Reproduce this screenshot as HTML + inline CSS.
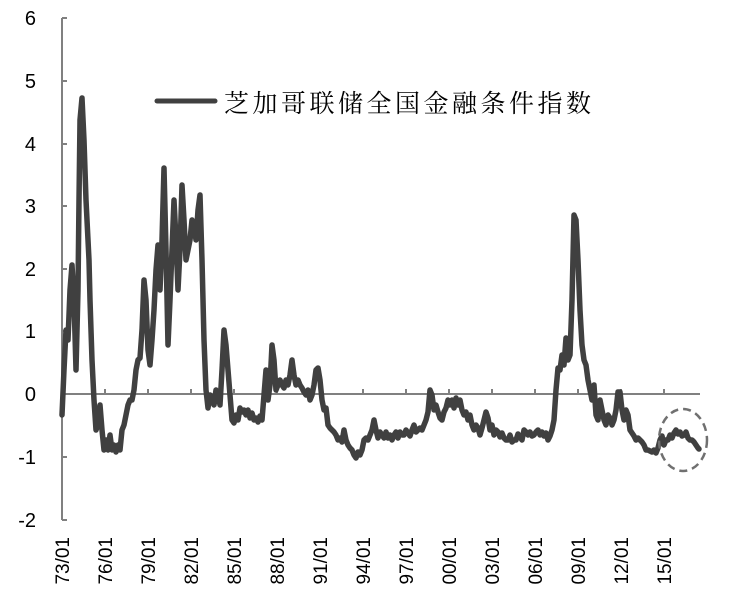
<!DOCTYPE html>
<html><head><meta charset="utf-8"><style>
body{margin:0;background:#fff;}
svg{display:block;font-family:"Liberation Sans","Noto Sans CJK SC",sans-serif;}
</style></head><body>
<svg width="732" height="607" viewBox="0 0 732 607">
<g stroke="#808080" stroke-width="2" fill="none">
<line x1="62" y1="18" x2="62" y2="520"/>
<line x1="62" y1="394" x2="700" y2="394"/>
<line x1="62" y1="18" x2="67" y2="18"/><line x1="62" y1="81" x2="67" y2="81"/><line x1="62" y1="144" x2="67" y2="144"/><line x1="62" y1="206" x2="67" y2="206"/><line x1="62" y1="269" x2="67" y2="269"/><line x1="62" y1="331" x2="67" y2="331"/><line x1="62" y1="457" x2="67" y2="457"/><line x1="62" y1="520" x2="67" y2="520"/>
<line x1="105" y1="389" x2="105" y2="394"/><line x1="148" y1="389" x2="148" y2="394"/><line x1="191" y1="389" x2="191" y2="394"/><line x1="234" y1="389" x2="234" y2="394"/><line x1="277" y1="389" x2="277" y2="394"/><line x1="320" y1="389" x2="320" y2="394"/><line x1="363" y1="389" x2="363" y2="394"/><line x1="406" y1="389" x2="406" y2="394"/><line x1="449" y1="389" x2="449" y2="394"/><line x1="492" y1="389" x2="492" y2="394"/><line x1="535" y1="389" x2="535" y2="394"/><line x1="578" y1="389" x2="578" y2="394"/><line x1="621" y1="389" x2="621" y2="394"/><line x1="664" y1="389" x2="664" y2="394"/>
</g>
<g font-size="20" fill="#000" text-anchor="end">
<text x="36" y="25">6</text><text x="36" y="88">5</text><text x="36" y="151">4</text><text x="36" y="213">3</text><text x="36" y="276">2</text><text x="36" y="338">1</text><text x="36" y="401">0</text><text x="36" y="464">-1</text><text x="36" y="527">-2</text>
</g>
<g font-size="19" fill="#000" text-anchor="end">
<text transform="translate(69,537) rotate(-90)">73/01</text>
<text transform="translate(112,537) rotate(-90)">76/01</text>
<text transform="translate(155,537) rotate(-90)">79/01</text>
<text transform="translate(198,537) rotate(-90)">82/01</text>
<text transform="translate(241,537) rotate(-90)">85/01</text>
<text transform="translate(284,537) rotate(-90)">88/01</text>
<text transform="translate(327,537) rotate(-90)">91/01</text>
<text transform="translate(370,537) rotate(-90)">94/01</text>
<text transform="translate(413,537) rotate(-90)">97/01</text>
<text transform="translate(456,537) rotate(-90)">00/01</text>
<text transform="translate(499,537) rotate(-90)">03/01</text>
<text transform="translate(542,537) rotate(-90)">06/01</text>
<text transform="translate(585,537) rotate(-90)">09/01</text>
<text transform="translate(628,537) rotate(-90)">12/01</text>
<text transform="translate(671,537) rotate(-90)">15/01</text>
</g>
<polyline fill="none" stroke="#404040" stroke-width="5.5" stroke-linejoin="round" stroke-linecap="round" points="62,415 64,370 66,330 68,340 70,290 72,265 74,300 76,370 77,330 78,290 79,200 80,120 82,98 84,140 86,200 88,240 89,260 90,300 92,360 94,400 96,430 98,425 100,405 102,430 104,450 106,440 108,450 110,435 112,450 114,445 116,452 118,445 120,450 122,430 124,425 126,415 128,405 130,400 132,400 134,390 136,370 138,360 140,358 142,330 144,280 146,300 148,350 150,365 152,340 154,310 156,270 158,245 160,290 162,240 164,168 166,250 168,345 170,300 172,250 174,200 176,240 178,290 180,250 182,185 184,220 186,260 188,250 190,240 192,220 194,225 196,240 198,210 200,195 202,260 204,340 206,390 208,408 210,395 212,400 214,405 216,390 218,395 220,405 222,370 224,330 226,345 228,370 230,395 232,420 234,423 236,415 238,420 240,408 242,412 244,410 246,415 248,410 250,418 252,413 254,420 256,418 258,422 260,416 262,420 264,395 266,370 268,400 270,385 272,345 274,360 276,390 278,385 280,380 282,385 284,388 286,380 288,385 290,375 292,360 294,375 296,385 298,380 300,385 302,388 304,392 306,395 308,390 310,400 312,395 314,385 316,370 318,368 320,380 322,400 324,410 326,408 328,425 330,428 332,430 334,432 336,435 338,440 340,438 342,442 344,430 346,440 348,445 350,448 352,450 354,455 356,458 358,452 360,455 362,450 364,440 366,438 368,440 370,435 372,430 374,420 376,430 378,438 380,432 382,435 384,438 386,432 388,438 390,435 392,440 394,435 396,432 398,438 400,432 402,435 404,435 406,430 408,433 410,436 412,430 414,425 416,432 418,430 420,428 422,430 424,425 426,420 428,412 430,390 432,395 434,410 436,405 438,412 440,418 442,420 444,412 446,408 448,400 450,405 452,400 454,408 456,398 458,405 460,400 462,410 464,415 466,412 468,420 470,415 472,425 474,430 476,425 478,428 480,435 482,428 484,420 486,412 488,418 490,430 492,425 494,435 496,430 498,432 500,437 502,433 504,438 506,440 508,440 510,435 512,442 514,440 516,440 518,434 520,437 522,440 524,430 526,432 528,435 530,432 532,436 534,435 536,432 538,430 540,435 542,432 544,436 546,433 548,440 550,436 552,430 554,420 556,390 558,368 560,370 562,355 564,365 566,338 568,360 570,355 572,300 574,215 576,220 578,260 580,310 582,345 584,360 586,365 588,380 590,390 592,400 594,385 596,415 598,420 600,400 602,410 604,420 606,425 608,415 610,418 612,425 614,420 616,410 618,392 620,392 622,410 624,420 626,410 628,415 630,430 632,433 634,436 636,440 638,438 640,440 642,442 644,445 646,450 648,450 650,451 652,452 654,450 656,453 658,448 660,440 662,436 664,445 666,440 668,440 670,435 672,438 674,433 676,430 678,434 680,432 682,436 684,435 686,432 688,438 690,440 692,440 694,442 696,445 698,448 699,449"/>
<ellipse cx="683" cy="440" rx="24" ry="31" fill="none" stroke="#707070" stroke-width="2.5" stroke-dasharray="8,5"/>
<line x1="157" y1="101" x2="215" y2="101" stroke="#404040" stroke-width="5" stroke-linecap="round"/>
<text x="224" y="112" font-size="25" letter-spacing="3.5" fill="#000" font-family="'Noto Serif CJK SC','Noto Sans CJK SC',serif">芝加哥联储全国金融条件指数</text>
</svg>
</body></html>
